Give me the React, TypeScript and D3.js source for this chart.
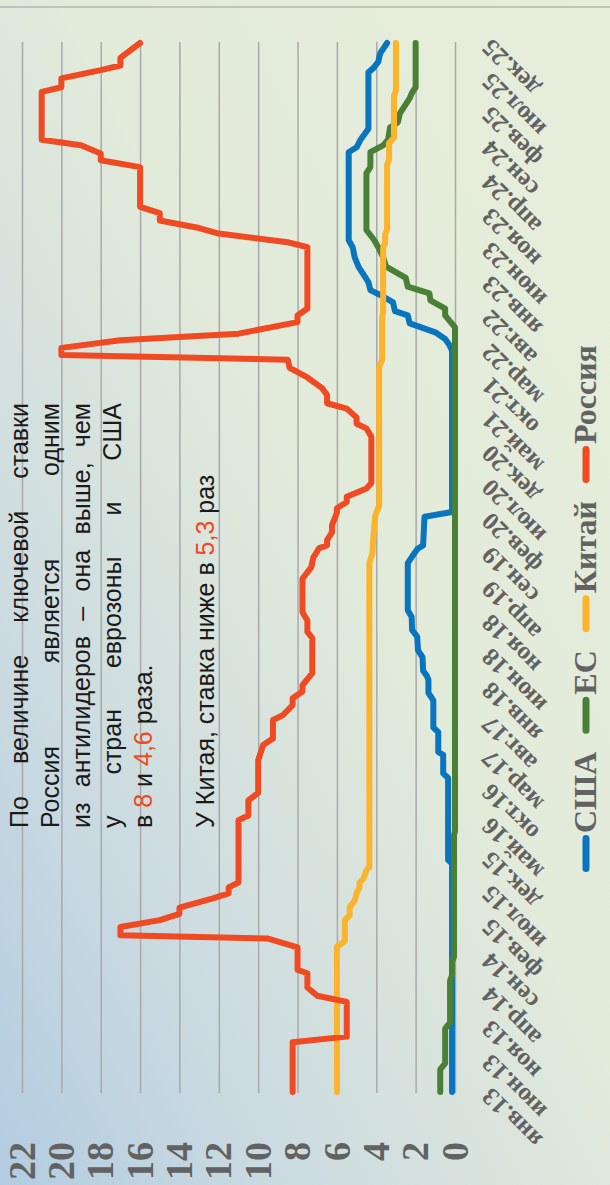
import React, { useEffect, useRef } from 'react';
import * as d3 from 'd3';

const WIDTH = 610;
const HEIGHT = 1185;

// --- Data ---
const monthAbbr = ['янв', 'фев', 'мар', 'апр', 'май', 'июн', 'июл', 'авг', 'сен', 'окт', 'ноя', 'дек'];

const tickLabels = [
  'янв.13', 'июн.13', 'ноя.13', 'апр.14', 'сен.14', 'фев.15', 'июл.15', 'дек.15',
  'май.16', 'окт.16', 'мар.17', 'авг.17', 'янв.18', 'июн.18', 'ноя.18', 'апр.19',
  'сен.19', 'фев.20', 'июл.20', 'дек.20', 'май.21', 'окт.21', 'мар.22', 'авг.22',
  'янв.23', 'июн.23', 'ноя.23', 'апр.24', 'сен.24', 'фев.25', 'июл.25', 'дек.25',
];

const rateTicks = [0, 2, 4, 6, 8, 10, 12, 14, 16, 18, 20, 22];

const usaRates: [string, number][] = [
  ['2013-01-01', 0.15], ['2015-10-25', 0.15], ['2015-11-10', 0.35], ['2016-11-13', 0.35],
  ['2016-12-04', 0.6], ['2017-02-25', 0.6], ['2017-03-10', 0.85], ['2017-06-07', 0.85],
  ['2017-06-28', 1.1], ['2017-10-28', 1.1], ['2017-12-01', 1.35], ['2018-01-28', 1.35],
  ['2018-02-13', 1.42], ['2018-03-10', 1.62], ['2018-05-10', 1.65], ['2018-06-10', 1.88],
  ['2018-08-10', 1.92], ['2018-09-10', 2.18], ['2018-11-07', 2.2], ['2018-12-07', 2.4],
  ['2019-07-07', 2.4], ['2019-08-16', 2.1], ['2019-09-10', 1.9], ['2019-09-25', 1.62],
  ['2020-02-01', 1.55], ['2020-02-22', 0.15], ['2022-02-16', 0.15], ['2022-03-16', 0.3],
  ['2022-04-10', 0.5], ['2022-05-10', 1.0], ['2022-06-19', 2.3], ['2022-07-25', 2.4],
  ['2022-08-13', 3.05], ['2022-09-22', 3.15], ['2022-10-25', 3.8], ['2022-11-16', 4.3],
  ['2022-12-22', 4.4], ['2023-02-28', 4.9], ['2023-04-13', 5.1], ['2023-05-28', 5.2],
  ['2023-06-28', 5.4], ['2024-07-28', 5.4], ['2024-08-19', 5.0], ['2024-09-22', 4.8],
  ['2024-11-10', 4.4], ['2025-07-22', 4.4], ['2025-08-10', 4.15], ['2025-09-07', 3.9],
  ['2025-10-16', 3.8], ['2025-12-01', 3.45],
];

const euRates: [string, number][] = [
  ['2013-01-01', 0.75], ['2013-04-13', 0.75], ['2013-05-10', 0.5], ['2013-10-13', 0.5],
  ['2013-11-10', 0.25], ['2014-05-16', 0.25], ['2014-06-10', 0.15], ['2014-08-10', 0.15],
  ['2014-09-01', 0.05], ['2016-03-01', 0.05], ['2016-03-19', 0], ['2022-06-01', 0],
  ['2022-07-25', 0.5], ['2022-08-25', 0.5], ['2022-10-01', 1.25], ['2022-11-01', 1.3],
  ['2022-12-01', 2.4], ['2023-01-10', 2.5], ['2023-03-01', 3.5], ['2023-04-13', 3.65],
  ['2023-05-28', 3.9], ['2023-06-28', 4.1], ['2023-08-13', 4.5], ['2024-04-25', 4.5],
  ['2024-05-22', 4.3], ['2024-07-28', 4.3], ['2024-08-28', 3.65], ['2024-09-22', 3.4],
  ['2024-11-16', 3.3], ['2024-12-10', 2.9], ['2025-01-19', 2.8], ['2025-03-28', 2.3],
  ['2025-04-19', 2.2], ['2025-05-16', 2.0], ['2025-12-01', 2.0],
];

const chinaRates: [string, number][] = [
  ['2013-01-01', 6.0], ['2014-10-16', 6.0], ['2014-11-10', 5.6], ['2015-02-13', 5.6],
  ['2015-03-07', 5.35], ['2015-04-13', 5.35], ['2015-05-10', 5.1], ['2015-06-13', 5.0],
  ['2015-07-10', 4.85], ['2015-08-01', 4.85], ['2015-08-19', 4.65], ['2015-09-25', 4.5],
  ['2015-10-10', 4.35], ['2019-07-07', 4.35], ['2019-08-19', 4.2], ['2019-11-01', 4.15],
  ['2020-02-07', 4.05], ['2020-03-22', 3.85], ['2021-12-07', 3.85], ['2022-01-07', 3.7],
  ['2022-07-16', 3.7], ['2022-08-10', 3.65], ['2023-05-25', 3.65], ['2023-06-16', 3.55],
  ['2023-07-25', 3.55], ['2023-08-16', 3.45], ['2024-06-01', 3.45], ['2024-06-25', 3.35],
  ['2024-09-07', 3.35], ['2024-10-01', 3.1], ['2025-04-07', 3.1], ['2025-05-01', 3.0],
  ['2025-12-01', 3.0],
];

const russiaRates: [string, number][] = [
  ['2013-01-01', 8.25], ['2013-08-13', 8.25], ['2013-09-07', 5.5], ['2014-02-10', 5.5],
  ['2014-03-10', 7.0], ['2014-04-16', 7.5], ['2014-06-19', 7.5], ['2014-07-04', 8.0],
  ['2014-10-13', 8.0], ['2014-11-22', 9.5], ['2014-12-07', 17], ['2015-01-13', 17],
  ['2015-02-13', 15], ['2015-03-13', 14], ['2015-04-10', 14], ['2015-05-22', 12.3],
  ['2015-06-13', 11.5], ['2015-07-10', 11.5], ['2015-08-01', 11.0], ['2016-05-07', 11.0],
  ['2016-05-28', 10.5], ['2016-08-04', 10.5], ['2016-09-07', 10.0], ['2017-02-01', 10.0],
  ['2017-04-10', 9.75], ['2017-05-10', 9.25], ['2017-08-01', 9.25], ['2017-08-22', 8.75],
  ['2017-10-07', 8.25], ['2017-11-07', 8.25], ['2017-12-07', 7.75], ['2018-01-04', 7.75],
  ['2018-02-28', 7.25], ['2018-08-04', 7.25], ['2018-09-01', 7.5], ['2018-10-22', 7.5],
  ['2018-11-28', 7.75], ['2019-04-28', 7.75], ['2019-06-19', 7.3], ['2019-08-01', 7.2],
  ['2019-09-13', 6.9], ['2019-09-25', 6.5], ['2019-10-19', 6.5], ['2019-11-22', 6.25],
  ['2019-12-25', 6.25], ['2020-02-19', 6.0], ['2020-03-10', 6.0], ['2020-04-07', 5.5],
  ['2020-05-01', 5.5], ['2020-06-07', 4.5], ['2020-07-01', 4.25], ['2021-01-25', 4.25],
  ['2021-03-04', 4.5], ['2021-03-25', 5.0], ['2021-04-22', 5.0], ['2021-06-01', 5.5],
  ['2021-06-25', 6.5], ['2021-08-01', 6.5], ['2021-09-01', 6.75], ['2021-10-19', 7.5],
  ['2021-12-01', 8.4], ['2022-01-07', 8.5], ['2022-01-28', 20], ['2022-03-01', 20],
  ['2022-04-04', 17], ['2022-05-04', 11], ['2022-06-25', 8.0], ['2022-07-25', 8.0],
  ['2022-08-25', 7.5], ['2023-05-28', 7.5], ['2023-06-19', 8.5], ['2023-07-28', 12],
  ['2023-08-22', 13], ['2023-09-25', 15], ['2023-10-28', 15], ['2023-11-25', 16],
  ['2024-05-22', 16], ['2024-06-22', 18], ['2024-07-22', 18], ['2024-08-28', 19],
  ['2024-09-22', 21], ['2025-04-25', 21], ['2025-05-16', 20], ['2025-06-25', 20],
  ['2025-08-01', 18], ['2025-08-22', 17], ['2025-09-25', 17], ['2025-12-01', 16],
];

const seriesNames = ['США', 'ЕС', 'Китай', 'Россия'];
const seriesData = [usaRates, euRates, chinaRates, russiaRates];

// annotation text (lines are justified like in the source)
const noteLines = [
  'По величине ключевой ставки',
  'Россия является одним',
  'из антилидеров – она выше, чем',
  'у стран еврозоны и США',
];
const noteTail: [string, boolean][] = [['в ', false], ['8', true], [' и ', false], ['4,6', true], [' раза.', false]];
const noteChina: [string, boolean][] = [['У Китая, ставка ниже в ', false], ['5,3', true], [' раз', false]];

const COLORS: Record<string, string> = {
  'США': '#0a75bf',
  'ЕС': '#4a8035',
  'Китай': '#fbb42c',
  'Россия': '#f04a23',
};
const ACCENT = '#f04a23';
const GREY = '#626262';
const SERIF = "'Liberation Serif', 'Times New Roman', serif";
const SANS = "'Liberation Sans', Arial, sans-serif";

const parseDate = d3.timeParse('%Y-%m-%d');
const parseTick = (s: string) => {
  const [m, yy] = s.split('.');
  return new Date(2000 + +yy, monthAbbr.indexOf(m), 1);
};

const App: React.FC = () => {
  const svgRef = useRef<SVGSVGElement>(null);

  useEffect(() => {
    if (!svgRef.current) return;
    const svg = d3.select(svgRef.current);
    svg.selectAll('*').remove();

    // background
    const defs = svg.append('defs');
    const grad = defs.append('linearGradient').attr('id', 'bg')
      .attr('x1', 0).attr('y1', 1).attr('x2', 1).attr('y2', 0);
    ([[0, '#b3cce1'], [0.28, '#cfdde0'], [0.55, '#e2eada'], [1, '#e7eedb']] as [number, string][])
      .forEach(([o, c]) => grad.append('stop').attr('offset', o).attr('stop-color', c));
    svg.append('rect').attr('width', WIDTH).attr('height', HEIGHT).attr('fill', 'url(#bg)');
    svg.append('line').attr('x1', 0).attr('x2', WIDTH).attr('y1', 7).attr('y2', 7)
      .attr('stroke', '#b4b4b4').attr('stroke-width', 1.5);

    // the chart is laid out landscape, then turned a quarter to the left
    const g = svg.append('g').attr('transform', `translate(0,${HEIGHT}) rotate(-90)`);

    const x = d3.scaleTime()
      .domain([parseDate('2013-01-01')!, parseDate('2025-12-01')!])
      .range([93, 1142]);
    const y = d3.scaleLinear().domain([0, 22]).range([455, 22]);

    // --- grid + rate labels ---
    const yAxis = g.append('g').attr('transform', 'translate(92,0)')
      .call(d3.axisLeft(y).tickValues(rateTicks).tickSize(-(1143 - 92)).tickPadding(49).tickFormat(d3.format('d')));
    yAxis.select('.domain').remove();
    yAxis.selectAll('.tick line').attr('stroke', '#a9a9a9').attr('stroke-width', 1.5);
    yAxis.selectAll('.tick text')
      .attr('font-family', SERIF).attr('font-weight', 'bold').attr('font-size', 38).attr('fill', GREY);

    // --- date labels ---
    const tickDates = tickLabels.map(parseTick);
    const xAxis = g.append('g').attr('transform', 'translate(0,455)')
      .call(d3.axisBottom(x).tickValues(tickDates).tickSize(0).tickFormat((_, i) => tickLabels[i]));
    xAxis.select('.domain').remove();
    xAxis.selectAll('.tick text')
      .attr('y', 0).attr('dy', 0).attr('text-anchor', 'end')
      .attr('transform', 'translate(5,37) rotate(-45)')
      .attr('font-family', SERIF).attr('font-weight', 'bold').attr('font-size', 25).attr('fill', GREY);

    // --- annotation ---
    const TEXT_X = 357;
    const TEXT_W = 425;
    const note = g.append('g').attr('font-family', SANS).attr('font-size', 25).attr('fill', '#1a1a1a');
    noteLines.forEach((line, i) => {
      const words = line.split(' ');
      const ly = 28 + i * 31;
      const nodes = words.map((w) => note.append('text').attr('y', ly).text(w));
      const widths = nodes.map((n) => (n.node() as SVGTextElement).getComputedTextLength());
      const gap = (TEXT_W - d3.sum(widths)) / (words.length - 1);
      let pos = TEXT_X;
      nodes.forEach((n, j) => {
        n.attr('x', pos);
        pos += widths[j] + gap;
      });
    });
    [[noteTail, 28 + 4 * 31], [noteChina, 28 + 6 * 31]].forEach(([parts, ly]) => {
      const t = note.append('text').attr('x', TEXT_X).attr('y', ly as number).attr('xml:space', 'preserve');
      (parts as [string, boolean][]).forEach(([s, hot]) => {
        t.append('tspan').attr('fill', hot ? ACCENT : null).text(s);
      });
    });

    // --- series ---
    const line = d3.line<[string, number]>()
      .x((d) => x(parseDate(d[0])!))
      .y((d) => y(d[1]));
    seriesNames.forEach((name, i) => {
      g.append('path')
        .attr('d', line(seriesData[i]))
        .attr('fill', 'none')
        .attr('stroke', COLORS[name])
        .attr('stroke-width', 6)
        .attr('stroke-linejoin', 'round')
        .attr('stroke-linecap', 'round');
    });

    // --- legend ---
    let lx = 313;
    const legend = g.append('g');
    seriesNames.forEach((name) => {
      legend.append('line')
        .attr('x1', lx + 3.5).attr('x2', lx + 33.5).attr('y1', 586).attr('y2', 586)
        .attr('stroke', COLORS[name]).attr('stroke-width', 7).attr('stroke-linecap', 'round');
      const t = legend.append('text')
        .attr('x', lx + 39).attr('y', 596)
        .attr('font-family', SERIF).attr('font-weight', 'bold').attr('font-size', 32).attr('fill', GREY)
        .text(name);
      lx += 39 + (t.node() as SVGTextElement).getComputedTextLength() + 18;
    });
  }, []);

  return (
    <svg
      ref={svgRef}
      width={WIDTH}
      height={HEIGHT}
      style={{ position: 'absolute', left: 0, top: 0, display: 'block' }}
    />
  );
};

export default App;
